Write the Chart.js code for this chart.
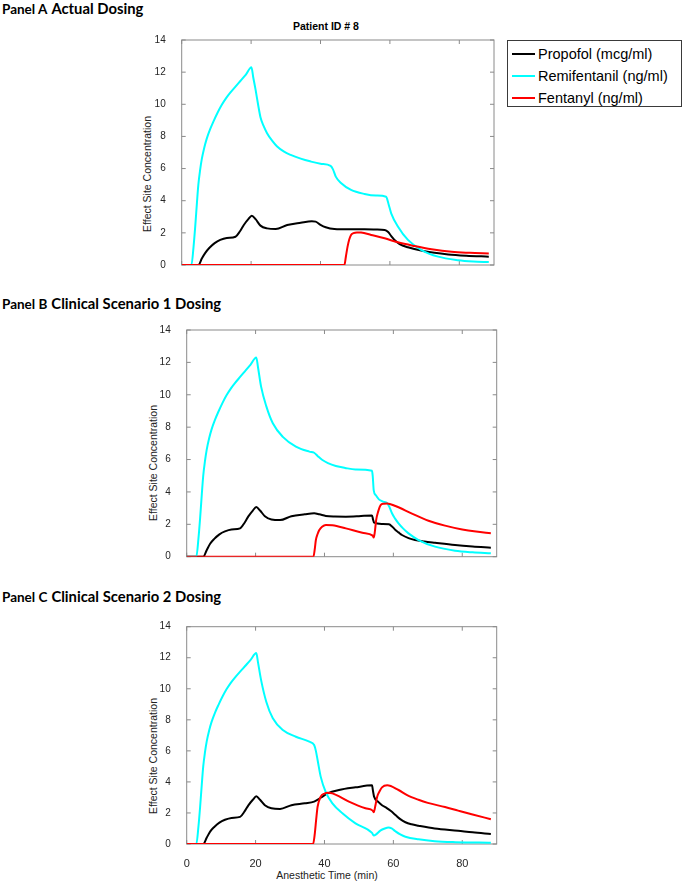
<!DOCTYPE html>
<html><head><meta charset="utf-8">
<script src="https://cdn.jsdelivr.net/npm/chart.js@4.4.0/dist/chart.umd.min.js"></script>
<style>
html,body{margin:0;padding:0;background:#fff}
body{width:685px;height:882px;position:relative;overflow:hidden;font-family:"Liberation Sans",Arial,sans-serif}
canvas{position:absolute;left:0}
.plab{position:absolute;left:2px;font-family:Lato,"Open Sans",sans-serif;font-weight:bold;white-space:nowrap;color:#000;line-height:1}
.plab .p{font-size:13.5px}
.plab .t{font-size:14.8px;margin-left:4px}
.rot{position:absolute;font-size:10.5px;white-space:nowrap;color:#222;transform:translate(-50%,-50%) rotate(-90deg)}
.hc{position:absolute;white-space:nowrap;transform:translate(-50%,-50%)}
#legend{position:absolute;left:507px;top:40px;width:175px;height:67px;border:1px solid #3a3a3a;box-sizing:border-box;background:#fff}
#legend .it{position:absolute;left:4px;height:22px;display:flex;align-items:center;font-size:14.5px;color:#000;white-space:nowrap}
#legend .ln{width:23px;height:2px;margin-right:3px}
</style></head>
<body>
<div class="plab" style="top:0px"><span class="p">Panel A</span><span class="t">Actual Dosing</span></div>
<div class="plab" style="top:295px"><span class="p">Panel B</span><span class="t">Clinical Scenario 1 Dosing</span></div>
<div class="plab" style="top:588px"><span class="p">Panel C</span><span class="t">Clinical Scenario 2 Dosing</span></div>
<div class="hc" style="left:326px;top:25.5px;font-weight:bold;font-size:10.5px">Patient ID # 8</div>
<div class="rot" style="left:147px;top:174px">Effect Site Concentration</div>
<div class="rot" style="left:153px;top:463px">Effect Site Concentration</div>
<div class="rot" style="left:153px;top:756px">Effect Site Concentration</div>
<div class="hc" style="left:327px;top:875px;font-size:10.5px;color:#222">Anesthetic Time (min)</div>
<div id="legend"></div>
<canvas id="cA" width="685" height="290" style="top:0px"></canvas>
<canvas id="cB" width="685" height="300" style="top:290px"></canvas>
<canvas id="cC" width="685" height="292" style="top:590px"></canvas>
<script>
// ---- shared labels / ticks ----
const seriesNames = ['Propofol (mcg/ml)', 'Remifentanil (ng/ml)', 'Fentanyl (ng/ml)'];
const seriesColors = ['#000000', '#00ffff', '#ff0000'];
const xTickVals = [0, 20, 40, 60, 80];
const yTickVals = [0, 2, 4, 6, 8, 10, 12, 14];

// ---- Panel A: Actual Dosing ----
const tA_prop = [0, 4.8, 5.8, 6.8, 8.0, 9.5, 11.1, 13.0, 15.5, 16.8, 17.9, 19.2, 20.2, 21.3, 22.7, 24.6, 27.1, 30.4, 34.3, 37.5, 38.6, 40.0, 41.5, 44.0, 48.0, 52.7, 56.0, 58.5, 59.5, 60.4, 61.5, 62.8, 65.2, 70.0, 76.8, 82.0, 88.5];
const vA_prop = [0, 0, 0.4, 0.75, 1.07, 1.36, 1.56, 1.68, 1.76, 2.1, 2.49, 2.85, 3.07, 2.85, 2.45, 2.28, 2.24, 2.49, 2.63, 2.72, 2.7, 2.5, 2.35, 2.24, 2.22, 2.22, 2.21, 2.18, 2.05, 1.8, 1.52, 1.3, 1.1, 0.85, 0.66, 0.58, 0.52];
const tA_remi = [0, 2.8, 3.4, 3.9, 4.4, 4.8, 5.3, 5.8, 6.5, 7.2, 8.2, 9.2, 10.4, 11.6, 12.8, 14.0, 15.5, 16.9, 18.5, 20.1, 20.6, 21.3, 22.0, 22.7, 23.6, 24.6, 26.0, 27.5, 29.5, 31.4, 34.3, 37.0, 40.0, 42.9, 43.6, 44.4, 45.9, 48.8, 52.7, 56.0, 58.9, 59.6, 60.4, 62.3, 65.2, 69.1, 73.9, 79.7, 84.0, 88.5];
const vA_remi = [0, 0, 1.1, 2.4, 3.9, 5.0, 5.9, 6.6, 7.3, 7.85, 8.45, 8.95, 9.5, 9.98, 10.38, 10.72, 11.1, 11.45, 11.85, 12.3, 11.7, 10.9, 10.0, 9.2, 8.65, 8.2, 7.75, 7.37, 7.05, 6.85, 6.62, 6.45, 6.3, 6.17, 5.95, 5.5, 5.1, 4.67, 4.42, 4.32, 4.25, 3.8, 3.2, 2.4, 1.56, 0.93, 0.52, 0.3, 0.22, 0.18];
const tA_fent = [0, 46.9, 47.3, 47.8, 48.3, 48.8, 49.5, 50.5, 51.7, 54.6, 58.5, 62.3, 67.1, 72.0, 77.8, 83.0, 88.5];
const vA_fent = [0, 0, 0.5, 1.14, 1.6, 1.87, 1.98, 2.03, 2.02, 1.87, 1.66, 1.41, 1.18, 0.98, 0.82, 0.76, 0.72];

// ---- Panel B: Clinical Scenario 1 ----
const tB_prop = [0, 4.8, 5.8, 6.8, 8.0, 9.5, 11.1, 13.0, 15.5, 16.8, 17.9, 19.2, 20.2, 21.3, 22.7, 24.6, 27.1, 30.4, 34.3, 37.0, 38.5, 40.4, 43.0, 46.2, 50.0, 53.8, 54.1, 54.4, 56.7, 58.7, 59.7, 60.6, 61.5, 62.5, 64.4, 66.3, 69.0, 72.1, 77.9, 83.0, 88.3];
const vB_prop = [0, 0, 0.4, 0.8, 1.1, 1.38, 1.56, 1.68, 1.75, 2.1, 2.49, 2.85, 3.07, 2.85, 2.5, 2.3, 2.26, 2.5, 2.62, 2.68, 2.62, 2.52, 2.48, 2.47, 2.5, 2.55, 2.3, 2.1, 2.02, 2.0, 1.85, 1.65, 1.5, 1.34, 1.15, 1.03, 0.94, 0.86, 0.72, 0.63, 0.56];
const tB_remi = [0, 2.8, 3.4, 3.9, 4.4, 4.8, 5.3, 5.8, 6.5, 7.2, 8.2, 9.2, 10.4, 11.6, 12.8, 14.0, 15.5, 16.9, 18.5, 20.2, 20.7, 21.6, 23.1, 25.0, 27.9, 31.7, 35.6, 37.0, 38.2, 39.4, 41.0, 43.3, 46.0, 49.0, 53.8, 54.0, 54.3, 54.9, 55.8, 57.0, 58.2, 58.9, 59.6, 60.5, 61.5, 62.8, 64.4, 67.3, 72.1, 77.9, 83.0, 88.3];
const vB_remi = [0, 0, 1.1, 2.4, 3.9, 5.0, 5.9, 6.6, 7.3, 7.85, 8.45, 8.95, 9.5, 9.98, 10.38, 10.72, 11.1, 11.45, 11.85, 12.3, 11.7, 10.5, 9.3, 8.24, 7.4, 6.8, 6.49, 6.42, 6.18, 5.97, 5.78, 5.6, 5.48, 5.39, 5.31, 5.0, 4.1, 3.8, 3.54, 3.4, 3.3, 3.05, 2.68, 2.35, 2.06, 1.75, 1.44, 1.03, 0.62, 0.37, 0.27, 0.21];
const tB_fent = [0, 36.8, 37.2, 37.5, 38.0, 38.5, 39.3, 40.4, 42.3, 46.2, 51.0, 54.0, 54.3, 54.6, 55.0, 55.6, 56.3, 57.2, 58.2, 60.6, 65.4, 70.2, 75.0, 80.0, 84.0, 88.3];
const vB_fent = [0, 0, 0.5, 1.03, 1.4, 1.65, 1.85, 1.96, 1.94, 1.75, 1.48, 1.3, 1.19, 1.5, 2.26, 2.8, 3.19, 3.27, 3.29, 3.13, 2.66, 2.22, 1.92, 1.68, 1.55, 1.45];

// ---- Panel C: Clinical Scenario 2 ----
const tC_prop = [0, 4.8, 5.8, 6.8, 8.0, 9.5, 11.1, 13.0, 15.5, 16.8, 17.9, 19.2, 20.2, 21.3, 22.7, 24.6, 27.1, 30.4, 34.3, 37.0, 38.9, 40.9, 44.2, 49.0, 53.8, 54.1, 54.4, 55.7, 56.7, 58.2, 59.3, 60.6, 62.0, 63.5, 65.3, 67.3, 72.0, 78.8, 83.0, 88.3];
const vC_prop = [0, 0, 0.4, 0.8, 1.1, 1.38, 1.56, 1.68, 1.75, 2.1, 2.49, 2.85, 3.07, 2.85, 2.5, 2.3, 2.26, 2.5, 2.62, 2.73, 2.98, 3.26, 3.48, 3.65, 3.78, 3.4, 3.05, 2.7, 2.5, 2.3, 2.12, 1.87, 1.6, 1.4, 1.27, 1.18, 1.0, 0.85, 0.75, 0.65];
const tC_remi = [0, 2.8, 3.4, 3.9, 4.4, 4.8, 5.3, 5.8, 6.5, 7.2, 8.2, 9.2, 10.4, 11.6, 12.8, 14.0, 15.5, 16.9, 18.5, 20.2, 20.7, 21.6, 23.1, 25.0, 27.9, 31.7, 35.6, 37.0, 37.5, 38.0, 38.9, 40.4, 42.3, 45.2, 49.0, 53.8, 54.3, 55.0, 56.2, 57.5, 58.6, 59.5, 60.6, 62.0, 63.5, 67.3, 72.0, 78.0, 88.3];
const vC_remi = [0, 0, 1.1, 2.4, 3.9, 5.0, 5.9, 6.6, 7.3, 7.85, 8.45, 8.95, 9.5, 9.98, 10.38, 10.72, 11.1, 11.45, 11.85, 12.3, 11.7, 10.56, 9.17, 8.1, 7.34, 6.91, 6.59, 6.38, 6.0, 5.41, 4.34, 3.33, 2.62, 1.98, 1.33, 0.72, 0.55, 0.62, 0.86, 1.0, 1.06, 1.0, 0.82, 0.62, 0.47, 0.3, 0.18, 0.12, 0.08];
const tC_fent = [0, 36.7, 37.2, 37.6, 38.0, 38.9, 40.0, 40.9, 42.3, 47.1, 51.9, 54.0, 54.3, 54.8, 55.3, 56.0, 56.7, 58.2, 61.5, 64.0, 67.3, 70.0, 75.0, 78.8, 83.0, 88.3];
const vC_fent = [0, 0, 0.69, 1.6, 2.4, 3.05, 3.25, 3.3, 3.26, 2.73, 2.3, 2.15, 2.04, 2.5, 3.05, 3.4, 3.65, 3.78, 3.48, 3.15, 2.85, 2.65, 2.38, 2.15, 1.9, 1.6];

function pts(t, v) { return t.map((x, i) => ({ x: x, y: v[i] })); }

const frame = {
  id: 'frame',
  beforeDatasetsDraw(chart) {
    const { ctx, chartArea: a, scales } = chart;
    ctx.save();
    ctx.strokeStyle = '#8a8a8a';
    ctx.lineWidth = 1;
    ctx.strokeRect(a.left, a.top, a.right - a.left, a.bottom - a.top);
    const L = 4;
    ctx.beginPath();
    xTickVals.forEach(v => {
      const x = scales.x.getPixelForValue(v);
      ctx.moveTo(x, a.top); ctx.lineTo(x, a.top + L);
      ctx.moveTo(x, a.bottom); ctx.lineTo(x, a.bottom - L);
    });
    yTickVals.forEach(v => {
      const y = scales.y.getPixelForValue(v);
      ctx.moveTo(a.left, y); ctx.lineTo(a.left + L, y);
      ctx.moveTo(a.right, y); ctx.lineTo(a.right - L, y);
    });
    ctx.stroke();
    ctx.restore();
  }
};

function makeChart(id, series, g, showX) {
  const cv = document.getElementById(id);
  const H = cv.height, W = cv.width;
  return new Chart(cv, {
    type: 'line',
    data: {
      datasets: series.map((s, i) => ({
        label: seriesNames[i],
        data: pts(s[0], s[1]),
        borderColor: seriesColors[i],
        backgroundColor: seriesColors[i],
        borderWidth: 2,
        pointRadius: 0,
        fill: false,
        cubicInterpolationMode: 'monotone',
        order: 3 - i
      }))
    },
    options: {
      responsive: false,
      animation: false,
      events: [],
      layout: { padding: { left: g.l - g.yw, top: g.t, right: W - g.r, bottom: 0 } },
      plugins: { legend: { display: false }, tooltip: { enabled: false }, title: { display: false } },
      scales: {
        x: {
          type: 'linear', min: 0, max: 90,
          grid: { display: false },
          border: { display: false },
          afterBuildTicks: s => { s.ticks = xTickVals.map(v => ({ value: v })); },
          afterFit: s => { s.height = H - g.b; },
          ticks: { display: showX, padding: 5, color: '#262626', font: { family: 'Liberation Sans', size: 11 } }
        },
        y: {
          type: 'linear', min: 0, max: 14,
          grid: { display: false },
          border: { display: false },
          afterBuildTicks: s => { s.ticks = yTickVals.map(v => ({ value: v })); },
          afterFit: s => { s.width = g.yw; },
          ticks: { padding: 8, color: '#262626', font: { family: 'Liberation Sans', size: 10 } }
        }
      }
    },
    plugins: [frame]
  });
}

const chartA = makeChart('cA', [[tA_prop, vA_prop], [tA_remi, vA_remi], [tA_fent, vA_fent]],
  { l: 181.7, t: 40, r: 494, b: 265, yw: 40 }, false);
makeChart('cB', [[tB_prop, vB_prop], [tB_remi, vB_remi], [tB_fent, vB_fent]],
  { l: 186.7, t: 40, r: 496.7, b: 266.7, yw: 40 }, false);
makeChart('cC', [[tC_prop, vC_prop], [tC_remi, vC_remi], [tC_fent, vC_fent]],
  { l: 186.7, t: 36.7, r: 496.7, b: 254, yw: 40 }, true);

// legend from chart A datasets
const lg = document.getElementById('legend');
chartA.data.datasets.forEach((d, i) => {
  const it = document.createElement('div');
  it.className = 'it';
  it.style.top = (2 + i * 22) + 'px';
  const ln = document.createElement('div');
  ln.className = 'ln';
  ln.style.background = d.borderColor;
  it.appendChild(ln);
  it.appendChild(document.createTextNode(d.label));
  lg.appendChild(it);
});
</script>
</body></html>
